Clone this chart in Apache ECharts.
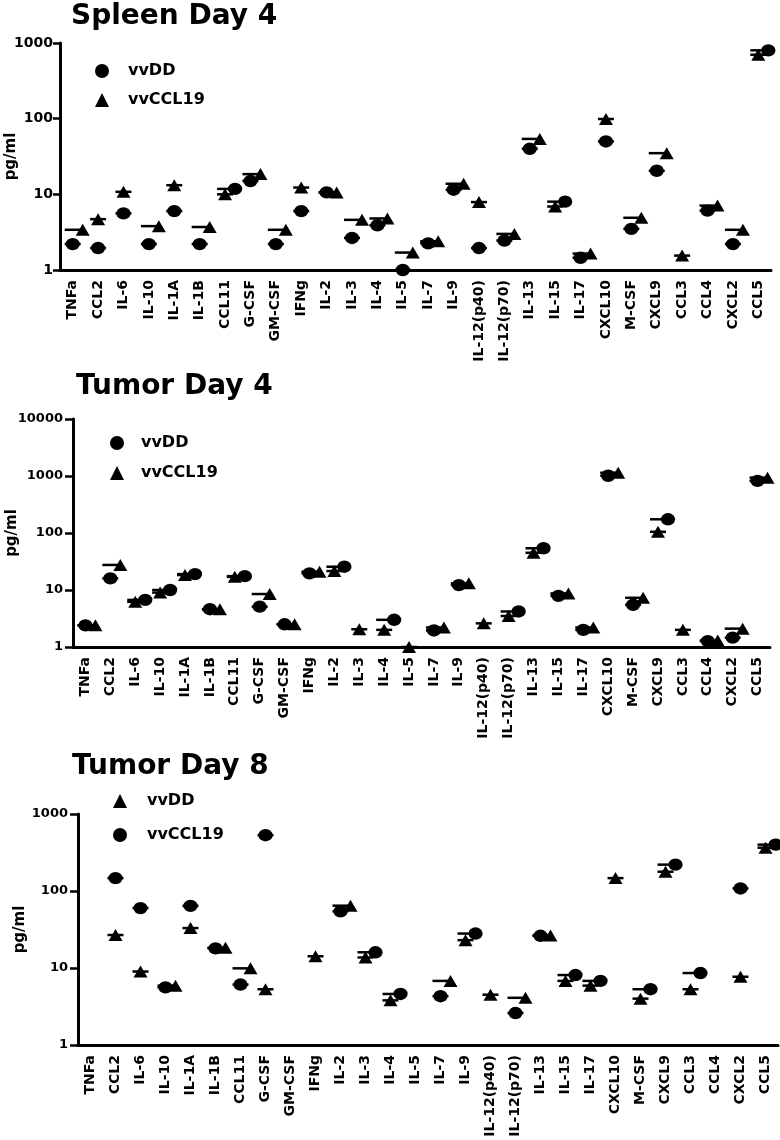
<!DOCTYPE html>
<html><head><meta charset="utf-8">
<script src="https://cdn.jsdelivr.net/npm/echarts@6/dist/echarts.min.js"></script>
<style>html,body{margin:0;padding:0;background:#fff}#c{width:780px;height:1140px}</style>
</head><body><div id="c"></div>
<script>
const categories = ['TNFa','CCL2','IL-6','IL-10','IL-1A','IL-1B','CCL11','G-CSF','GM-CSF','IFNg','IL-2','IL-3','IL-4','IL-5','IL-7','IL-9','IL-12(p40)','IL-12(p70)','IL-13','IL-15','IL-17','CXCL10','M-CSF','CXCL9','CCL3','CCL4','CXCL2','CCL5'];

// Spleen Day 4
const spleenD4_vvDD    = [2.2, 1.95, 5.6, 2.2, 6.0, 2.2, 11.8, 15, 2.2, 6.0, 10.6, 2.65, 3.9, 1.0, 2.25, 11.5, 1.95, 2.45, 40, 8.0, 1.45, 50, 3.5, 20.5, null, 6.1, 2.2, 800];
const spleenD4_vvCCL19 = [3.4, 4.7, 10.8, 3.8, 13.2, 3.7, 10.0, 18.5, 3.4, 12.3, 10.6, 4.6, 4.8, 1.7, 2.4, 13.8, 7.9, 3.0, 54, 6.9, 1.65, 99, 4.9, 35, 1.55, 7.1, 3.4, 700];
// Tumor Day 4
const tumorD4_vvDD    = [2.4, 16, 6.7, 10, 19, 4.6, 17.5, 5.1, 2.5, 19.6, 25.6, null, 3.0, null, 1.95, 12.2, null, 4.2, 54, 7.9, 2.0, 1010, 5.5, 174, null, 1.27, 1.46, 820];
const tumorD4_vvCCL19 = [2.4, 27.5, 6.2, 9.0, 18.3, 4.6, 17, 8.5, 2.5, 21, 21.5, 2.05, 2.0, 1.0, 2.2, 13.1, 2.6, 3.5, 45, 8.7, 2.2, 1140, 7.3, 105, 2.0, 1.3, 2.1, 935];
// Tumor Day 8
const tumorD8_vvDD    = [null, 26.8, 9.0, 5.9, 33, 18.3, 9.9, 5.3, null, 14.2, 64.5, 13.7, 3.8, null, 6.8, 23, 4.5, 4.1, 26.5, 6.8, 5.9, 147, 4.0, 178, 5.3, null, 7.7, 365];
const tumorD8_vvCCL19 = [null, 147, 60, 5.6, 64, 18, 6.1, 530, null, null, 54.5, 16, 4.6, null, 4.3, 28, null, 2.6, 26.2, 8.1, 6.8, null, 5.3, 220, 8.6, null, 108, 400];

const yTicks1 = [1, 10, 100, 1000];
const yTicks2 = [1, 10, 100, 1000, 10000];

const FONT = 'DejaVu Sans';
const panels = [
  { title: 'Spleen Day 4', titleLeft: 71, titleTop: 3,
    circle: spleenD4_vvDD, triangle: spleenD4_vvCCL19,
    legendData: [{name: 'vvDD', icon: 'circle'}, {name: 'vvCCL19', icon: 'triangle'}],
    legendPos: {left: 95, top: 63, itemGap: 13, pad: 14},
    grid: {left: 60, top: 43, width: 711, height: 227},
    max: yTicks1[yTicks1.length - 1], yFont: 14, tickLen: 7, labMargin: 7, nameGap: 41 },
  { title: 'Tumor Day 4', titleLeft: 76, titleTop: 373,
    circle: tumorD4_vvDD, triangle: tumorD4_vvCCL19,
    legendData: [{name: 'vvDD', icon: 'circle'}, {name: 'vvCCL19', icon: 'triangle'}],
    legendPos: {left: 110, top: 435, itemGap: 14, pad: 12},
    grid: {left: 73, top: 419, width: 697, height: 228},
    max: yTicks2[yTicks2.length - 1], yFont: 13, tickLen: 8, labMargin: 10, nameGap: 53 },
  { title: 'Tumor Day 8', titleLeft: 72, titleTop: 753,
    circle: tumorD8_vvCCL19, triangle: tumorD8_vvDD,
    legendData: [{name: 'vvDD', icon: 'triangle'}, {name: 'vvCCL19', icon: 'circle'}],
    legendPos: {left: 113, top: 793, itemGap: 18, pad: 15},
    grid: {left: 78, top: 814, width: 700, height: 231},
    max: yTicks1[yTicks1.length - 1], yFont: 13, tickLen: 8, labMargin: 10, nameGap: 50 }
];

function makeRender(circ, tri) {
  return function (params, api) {
    const i = params.dataIndex;
    const a = circ[i], b = tri[i];
    const x0 = api.coord([i, 1])[0];
    const ya = a == null ? null : api.coord([i, a])[1];
    const yb = b == null ? null : api.coord([i, b])[1];
    let xa = x0, xb = x0;
    if (ya != null && yb != null && Math.abs(ya - yb) < 20) {
      if (a <= b) xb += 10; else xa += 10;
    }
    const black = {fill: '#000'};
    const ch = [];
    if (ya != null) {
      ch.push({type: 'rect', shape: {x: x0 - 8, y: ya - 1.25, width: 16, height: 2.5}, style: black});
      ch.push({type: 'circle', x: xa, y: ya, scaleX: 1.15, shape: {cx: 0, cy: 0, r: 6.2}, style: black});
    }
    if (yb != null) {
      ch.push({type: 'rect', shape: {x: x0 - 8, y: yb - 1.25, width: 16, height: 2.5}, style: black});
      ch.push({type: 'polygon', shape: {points: [[xb, yb - 6], [xb + 7, yb + 6], [xb - 7, yb + 6]]}, style: black});
    }
    return {type: 'group', children: ch};
  };
}

const option = {
  backgroundColor: '#fff',
  animation: false,
  title: panels.map(p => ({
    text: p.title, left: p.titleLeft, top: p.titleTop, padding: 0,
    textStyle: {fontFamily: FONT, fontWeight: 'bold', fontSize: 28, color: '#000'}
  })),
  legend: panels.map(p => ({
    orient: 'vertical', left: p.legendPos.left, top: p.legendPos.top,
    itemWidth: 14, itemHeight: 14, itemGap: p.legendPos.itemGap, padding: 0,
    selectedMode: false, data: p.legendData,
    textStyle: {fontFamily: FONT, fontWeight: 'bold', fontSize: 16, color: '#000', lineHeight: 14,
      padding: [0, 0, 0, p.legendPos.pad]}
  })),
  grid: panels.map(p => Object.assign({containLabel: false, outerBoundsMode: 'none'}, p.grid)),
  xAxis: panels.map((p, k) => ({
    type: 'category', gridIndex: k, data: categories, boundaryGap: true,
    axisLine: {lineStyle: {color: '#000', width: 3}},
    axisTick: {alignWithLabel: true, length: 6, lineStyle: {color: '#000', width: 2}},
    axisLabel: {rotate: 90, interval: 0, margin: 10, color: '#000', fontFamily: FONT, fontWeight: 'bold', fontSize: 14},
    splitLine: {show: false}
  })),
  yAxis: panels.map((p, k) => ({
    type: 'log', logBase: 10, gridIndex: k, min: 1, max: p.max,
    axisLine: {show: true, lineStyle: {color: '#000', width: 3}},
    axisTick: {show: true, length: p.tickLen, lineStyle: {color: '#000', width: 2.5}},
    axisLabel: {margin: p.labMargin, color: '#000', fontFamily: FONT, fontWeight: 'bold', fontSize: p.yFont,
      formatter: v => String(Math.round(v))},
    splitLine: {show: false},
    name: 'pg/ml', nameLocation: 'middle', nameRotate: 90, nameGap: p.nameGap, nameMoveOverlap: false,
    nameTextStyle: {fontFamily: FONT, fontWeight: 'bold', fontSize: 15, color: '#000'}
  })),
  series: [
    {type: 'scatter', name: 'vvDD', data: [], itemStyle: {color: '#000', opacity: 1}},
    {type: 'scatter', name: 'vvCCL19', data: [], itemStyle: {color: '#000', opacity: 1}}
  ].concat(panels.map((p, k) => ({
    type: 'custom', name: p.title, xAxisIndex: k, yAxisIndex: k,
    data: categories.map((c, i) => [i, p.circle[i] != null ? p.circle[i] : (p.triangle[i] != null ? p.triangle[i] : 1)]),
    encode: {x: 0, y: 1},
    clip: false,
    renderItem: makeRender(p.circle, p.triangle)
  })))
};

const chart = echarts.init(document.getElementById('c'), null, {renderer: 'canvas'});
chart.setOption(option);
</script>
</body></html>
